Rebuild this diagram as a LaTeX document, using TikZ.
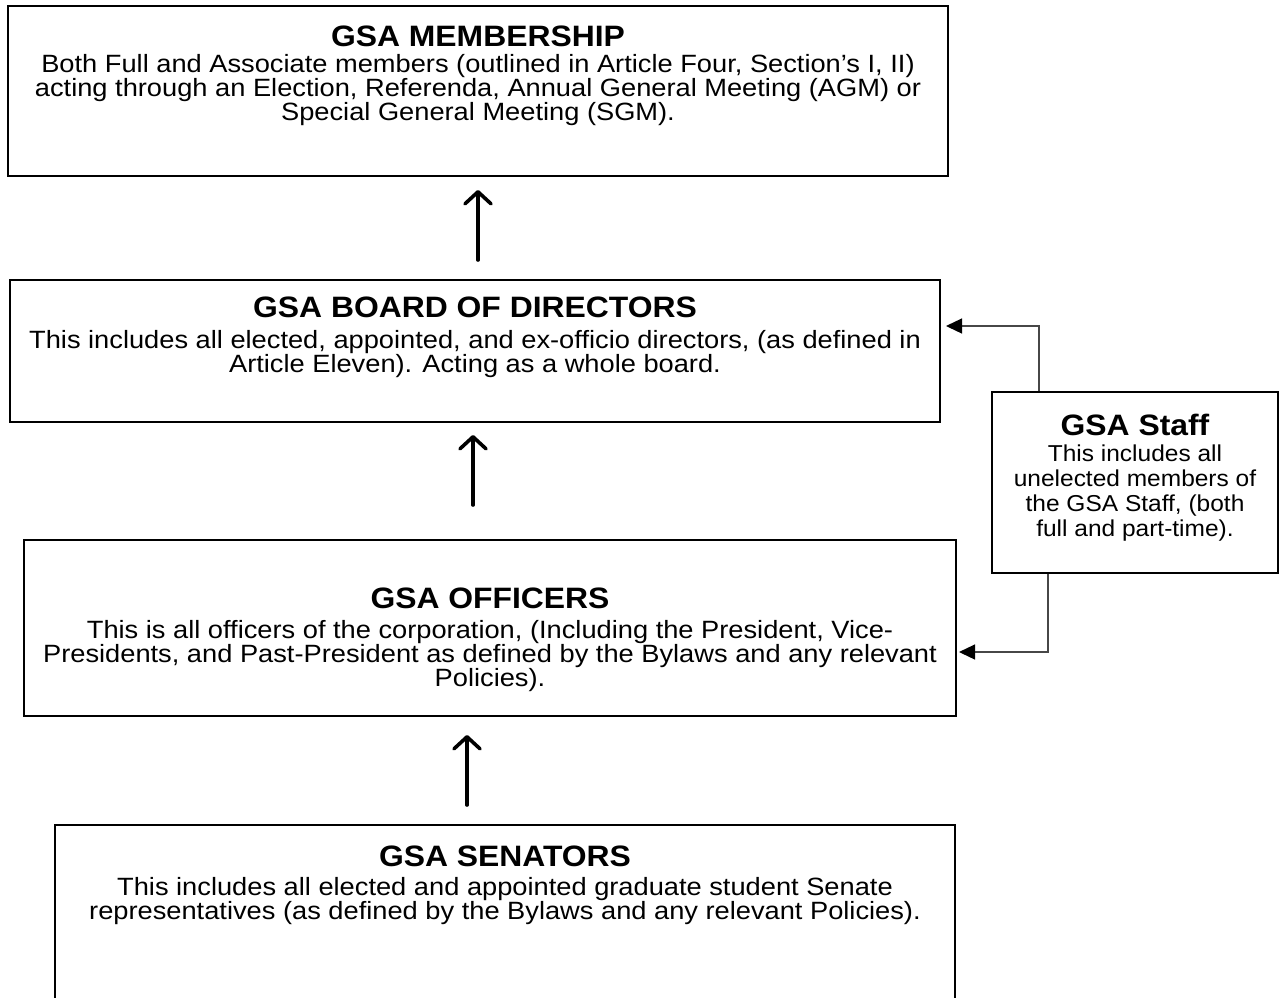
\documentclass[tikz,border=0pt]{standalone}
\usepackage{fontspec}
\setmainfont{Liberation Sans}
\newfontfamily\bodyfont[FakeStretch=1.09]{Liberation Sans}
\newfontfamily\ttlfont[FakeStretch=1.08]{Liberation Sans}
\newfontfamily\stafffont[FakeStretch=1.065]{Liberation Sans}
\usetikzlibrary{arrows.meta}
\tikzset{
  box/.style={draw=black, line width=2pt, rectangle, inner sep=0pt},
  ttl/.style={font=\ttlfont\fontsize{29.5}{34}\selectfont\bfseries, anchor=base, inner sep=0pt},
  bodytxt/.style={font=\bodyfont\fontsize{25}{23}\selectfont, align=center, anchor=north, inner sep=0pt},
  stafftxt/.style={font=\stafffont\fontsize{23}{25}\selectfont, align=center, anchor=north, inner sep=0pt},
  uparrow/.style={line width=3.6pt, line cap=round, -{Straight Barb[length=12pt, width=26pt, line cap=round, line join=round]}},
  conn/.style={draw=black!72, line width=1.3pt, -{Triangle[length=16pt, width=15pt, fill=black, color=black]}}
}
\begin{document}
\begin{tikzpicture}[x=1pt, y=-1pt]
\useasboundingbox (0,0) rectangle (1282,997);
\clip (0,0) rectangle (1282,997);
% boxes
\node[box, minimum width=940pt, minimum height=170pt] (mem) at (478,91) {};
\node[box, minimum width=930pt, minimum height=142pt] (board) at (475,351) {};
\node[box, minimum width=932pt, minimum height=176pt] (off) at (490,628) {};
\node[box, minimum width=900pt, minimum height=185pt] (sen) at (505,917.5) {};
\node[box, minimum width=286pt, minimum height=181pt] (staff) at (1135,482.5) {};
% texts
\node[ttl] (memT) at (478,46) {GSA MEMBERSHIP};
\node[bodytxt] (memB) at (478,53.8) {Both Full and Associate members (outlined in Article Four, Section’s I, II)\\acting through an Election, Referenda, Annual General Meeting (AGM) or\\Special General Meeting (SGM).};
\node[ttl] (boardT) at (475,317) {GSA BOARD OF DIRECTORS};
\node[bodytxt] (boardB) at (475,329.8) {This includes all elected, appointed, and ex-officio directors, (as defined in\\Article Eleven). Acting as a whole board.};
\node[ttl] (offT) at (490,608) {GSA OFFICERS};
\node[bodytxt] (offB) at (490,619.8) {This is all officers of the corporation, (Including the President, Vice-\\Presidents, and Past-President as defined by the Bylaws and any relevant\\Policies).};
\node[ttl] (senT) at (505,866) {GSA SENATORS};
\node[bodytxt] (senB) at (505,876.8) {This includes all elected and appointed graduate student Senate\\representatives (as defined by the Bylaws and any relevant Policies).};
\node[ttl] (staffT) at (1135,435) {GSA Staff};
\node[stafftxt] (staffB) at (1135,444.3) {This includes all\\unelected members of\\the GSA Staff, (both\\full and part-time).};
% vertical arrows
\coordinate (a1s) at (478,260); \coordinate (a1e) at (478,190);
\coordinate (a2s) at (473,505); \coordinate (a2e) at (473,435);
\coordinate (a3s) at (467,805); \coordinate (a3e) at (467,735);
\draw[uparrow] (a1s) -- (a1e);
\draw[uparrow] (a2s) -- (a2e);
\draw[uparrow] (a3s) -- (a3e);
% staff connectors
\coordinate (k1) at (1039,326);
\coordinate (k2) at (1048,652);
\draw[conn, shorten >=5pt] (staff.north -| k1) -- (k1) -- (board.east |- k1);
\draw[conn, shorten >=2pt] (staff.south -| k2) -- (k2) -- (off.east |- k2);
\end{tikzpicture}
\end{document}
